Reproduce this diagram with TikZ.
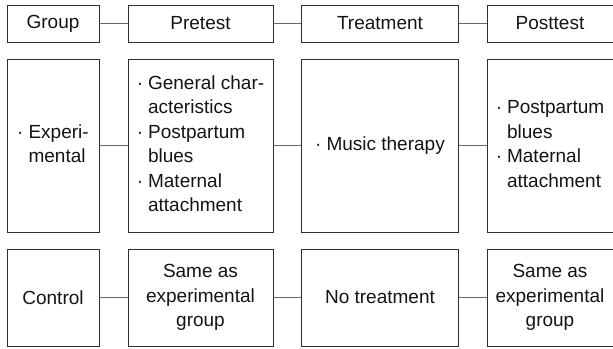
\documentclass[tikz,border=0pt]{standalone}
\usepackage{fontspec}
\setmainfont{Liberation Sans}
\usepackage{array}
\newcommand{\bdot}{\textperiodcentered}
\newenvironment{blist}{\begin{tabular}{@{}l@{\hspace{5pt}}l@{}}}{\end{tabular}}
\begin{document}
\begin{tikzpicture}[x=1pt,y=-1pt,
  box/.style={draw=black!82, line width=0.9pt, inner sep=0pt, align=center,
    font=\fontsize{19}{24.5}\selectfont, text=black!92},
  link/.style={draw=black!60, line width=0.9pt}]
\useasboundingbox (0,0) rectangle (613,348);
% row 1
\node[box, minimum width=92pt, minimum height=37pt] (g1) at (53,23.5) {Group};
\node[box, minimum width=145pt, minimum height=37pt] (p1) at (200.5,23.5) {Pretest};
\node[box, minimum width=157pt, minimum height=37pt] (t1) at (380,23.5) {Treatment};
\node[box, minimum width=126pt, minimum height=37pt] (q1) at (550,23.5) {Posttest};
% row 2
\node[box, minimum width=92pt, minimum height=173pt] (g2) at (53,145.5)
  {\begin{blist}\bdot & Experi-\\ & mental\end{blist}};
\node[box, minimum width=145pt, minimum height=173pt] (p2) at (200.5,145.5)
  {\begin{blist}\bdot & General char-\\ & acteristics\\ \bdot & Postpartum\\ & blues\\ \bdot & Maternal\\ & attachment\end{blist}};
\node[box, minimum width=157pt, minimum height=173pt] (t2) at (380,145.5)
  {\begin{blist}\bdot & Music therapy\end{blist}};
\node[box, minimum width=126pt, minimum height=173pt] (q2) at (550,145.5)
  {\begin{blist}\bdot & Postpartum\\ & blues\\ \bdot & Maternal\\ & attachment\end{blist}};
% row 3
\node[box, minimum width=92pt, minimum height=97pt] (g3) at (53,297.5) {Control};
\node[box, minimum width=145pt, minimum height=97pt] (p3) at (200.5,297.5)
  {Same as\\experimental\\group};
\node[box, minimum width=157pt, minimum height=97pt] (t3) at (380,297.5) {No treatment};
\node[box, minimum width=126pt, minimum height=97pt] (q3) at (550,297.5)
  {Same as\\experimental\\group};
% connectors
\foreach \r in {1,2,3} {
  \draw[link] (g\r.east) -- (p\r.west);
  \draw[link] (p\r.east) -- (t\r.west);
  \draw[link] (t\r.east) -- (q\r.west);
}
\end{tikzpicture}
\end{document}
